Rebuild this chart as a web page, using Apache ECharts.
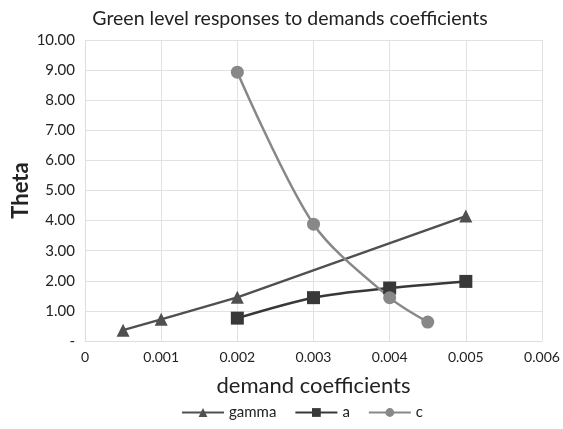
<!DOCTYPE html>
<html>
<head>
<meta charset="utf-8">
<script src="https://cdn.jsdelivr.net/npm/echarts@6/dist/echarts.min.js"></script>
<style>
  html, body { margin: 0; padding: 0; background: #fff; }
  #chart { width: 563px; height: 429px; }
</style>
</head>
<body>
<div id="chart"></div>
<script>
// Green level (Theta) against demand coefficients
const gammaX = [0.0005, 0.001, 0.002, 0.005];
const gammaY = [0.36, 0.72, 1.45, 4.15];
const aX = [0.002, 0.003, 0.004, 0.005];
const aY = [0.76, 1.44, 1.76, 1.98];
const cX = [0.002, 0.003, 0.004, 0.0045];
const cY = [8.93, 3.88, 1.44, 0.63];
const xTicks = [0, 0.001, 0.002, 0.003, 0.004, 0.005, 0.006];
const yTicks = [0, 1, 2, 3, 4, 5, 6, 7, 8, 9, 10];

const FONT = 'Lato';
const TEXT = '#222';
const pairs = (xs, ys) => xs.map((x, i) => [x, ys[i]]);

const chart = echarts.init(document.getElementById('chart'));
chart.setOption({
  backgroundColor: '#fff',
  animation: false,
  title: {
    text: 'Green level responses to demands coefficients',
    left: 285, top: 4, textAlign: 'center',
    textStyle: { fontFamily: FONT, fontSize: 19.5, fontWeight: 'normal', color: TEXT }
  },
  grid: { left: 85, right: 21, top: 40, bottom: 88, outerBoundsMode: 'none' },
  legend: {
    top: 400, left: 176, itemGap: 18, itemWidth: 42, itemHeight: 11,
    textStyle: { fontFamily: FONT, fontSize: 15, color: TEXT },
    data: ['gamma', 'a', 'c']
  },
  xAxis: {
    type: 'value', min: 0, max: 0.006, interval: 0.001,
    name: 'demand coefficients', nameLocation: 'middle', nameGap: 34, nameMoveOverlap: false,
    nameTextStyle: { fontFamily: FONT, fontSize: 22, color: TEXT },
    axisLine: { show: true, lineStyle: { color: '#ddd' } },
    axisTick: { show: false },
    splitLine: { show: true, lineStyle: { color: '#e2e2e2' } },
    axisLabel: {
      fontFamily: FONT, fontSize: 14, color: TEXT, margin: 9,
      formatter: v => { const t = xTicks.find(k => Math.abs(k - v) < 1e-9); return t === 0 ? '0' : String(+t.toFixed(3)); }
    }
  },
  yAxis: {
    type: 'value', min: 0, max: 10, interval: 1,
    name: 'Theta', nameLocation: 'middle', nameGap: 64, nameRotate: 90, nameMoveOverlap: false,
    nameTextStyle: { fontFamily: FONT, fontSize: 22, fontWeight: 'bold', color: TEXT, verticalAlign: 'middle' },
    axisLine: { show: true, lineStyle: { color: '#ddd' } },
    axisTick: { show: false },
    splitLine: { show: true, lineStyle: { color: '#e2e2e2' } },
    axisLabel: {
      fontFamily: FONT, fontSize: 15, color: TEXT, margin: 10,
      formatter: v => { const t = yTicks.find(k => Math.abs(k - v) < 1e-9); return t === 0 ? '-' : t.toFixed(2); }
    }
  },
  series: [
    {
      name: 'gamma', type: 'line', data: pairs(gammaX, gammaY),
      symbol: 'triangle', symbolSize: 13,
      lineStyle: { width: 2.5, color: '#505050' }, itemStyle: { color: '#505050' }
    },
    {
      name: 'a', type: 'line', data: pairs(aX, aY), smooth: 0.3,
      symbol: 'rect', symbolSize: 13,
      lineStyle: { width: 2.5, color: '#383838' }, itemStyle: { color: '#383838' }
    },
    {
      name: 'c', type: 'line', data: pairs(cX, cY), smooth: 0.3,
      symbol: 'circle', symbolSize: 13,
      lineStyle: { width: 2.5, color: '#888' }, itemStyle: { color: '#888' }
    }
  ]
});
</script>
</body>
</html>
